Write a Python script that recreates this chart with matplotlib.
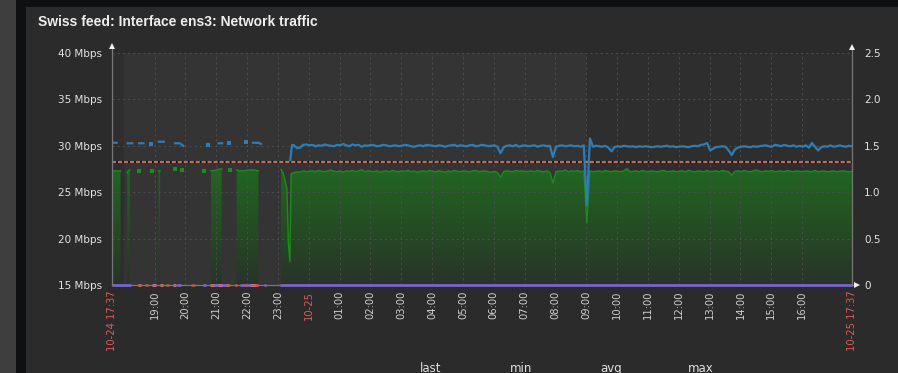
import numpy as np
import matplotlib
matplotlib.use("Agg")
import matplotlib.pyplot as plt
from matplotlib.path import Path
from matplotlib.patches import Rectangle
from matplotlib.lines import Line2D
from matplotlib.colors import LinearSegmentedColormap

plt.rcParams['lines.scale_dashes'] = False

# ---------------- data (x = hours since 10-24 17:37) ----------------
title = "Swiss feed: Interface ens3: Network traffic"

# early, intermittent part of the green (incoming) series, Mbps
green_early_t = [0.00, 0.28, 0.33, 0.49, 0.53, 0.58, 0.62, 1.51, 1.56, 1.60,
                 3.21, 3.30, 3.40, 3.50, 3.56, 3.60, 4.04, 4.15, 4.30, 4.45, 4.60, 4.75, 4.80,
                 5.48, 5.55, 5.62, 5.67, 5.70, 5.72, 5.77, 5.81]
green_early_v = [27.3, 27.3, np.nan, 27.1, 27.3, 27.4, np.nan, 27.3, 27.3, np.nan,
                 27.3, 27.35, 27.4, 27.5, 27.5, np.nan, 27.4, 27.3, 27.3, 27.4, 27.4, 27.3, np.nan,
                 27.45, 27.1, 26.2, 25.4, 22.5, 19.5, 17.5, 27.0]
green_dot_t = [0.88, 1.30, 2.04, 2.27, 2.98, 3.83]
green_dot_v = [27.3, 27.3, 27.45, 27.35, 27.3, 27.35]

# continuous part: starts 5.9 h, one value each 0.1 h
main_start, main_step = 5.9, 0.1
green_main = [
    27.1, 27.2, 27.15, 27.3, 27.2, 27.25,
    27.3, 27.2, 27.35, 27.25, 27.2, 27.3, 27.4, 27.25, 27.2, 27.3,
    27.15, 27.3, 27.25, 27.35, 27.2, 27.3, 27.45, 27.2, 27.3, 27.25,
    27.2, 27.3, 27.15, 27.25, 27.3, 27.2, 27.35, 27.25, 27.2, 27.3,
    27.25, 27.35, 27.2, 27.3, 27.15, 27.25, 27.3, 27.2, 27.35, 27.25,
    27.2, 27.3, 27.25, 27.15, 27.3, 27.2, 27.35, 27.25, 27.2, 27.3,
    27.25, 27.2, 27.3, 27.35, 27.2, 27.25, 27.3, 27.2, 27.15, 27.25,
    27.1, 26.6, 27.2, 27.3, 27.25, 27.2, 27.35, 27.25, 27.3, 27.2,
    27.25, 27.3, 27.2, 27.35, 27.25, 27.2, 27.3, 27.15, 26.0, 27.2,
    27.3, 27.25, 27.4, 27.2, 27.3, 27.25, 27.35, 27.2, 27.3, 21.7,
    27.3, 27.2, 27.25, 27.3, 27.2, 27.35, 27.25, 27.2, 27.3, 27.25,
    27.2, 27.3, 27.55, 27.2, 27.25, 27.3, 27.2, 27.35, 27.25, 27.2,
    27.3, 27.25, 27.2, 27.3, 27.35, 27.2, 27.25, 27.3, 27.2, 27.25,
    27.3, 27.2, 27.35, 27.25, 27.2, 27.3, 27.25, 27.2, 27.35, 27.2,
    27.25, 27.3, 27.2, 27.35, 27.25, 27.2, 26.85, 27.25, 27.3, 27.2,
    27.35, 27.25, 27.2, 27.3, 27.4, 27.25, 27.2, 27.3, 27.25, 27.35,
    27.2, 27.25, 27.3, 27.2, 27.35, 27.25, 27.2, 27.3, 27.25, 27.2,
    27.3, 27.25, 27.2, 27.35, 27.2, 27.25, 27.3, 27.2, 27.25, 27.3,
    27.2, 27.25, 27.3, 27.25, 27.2, 27.25,
]

# blue (outgoing) series, Mbps
blue_early_t = [0.00, 0.15, 0.30, 0.51, 0.66, 0.75, 0.88, 1.02, 1.10, 1.52, 1.68, 1.80,
                2.05, 2.20, 2.31, 2.40, 3.46, 3.57, 3.65, 4.57, 4.75, 4.83, 4.90,
                5.78, 5.84]
blue_early_v = [30.33, 30.33, np.nan, 30.27, 30.27, np.nan, 30.27, 30.27, np.nan, 30.44, 30.44, np.nan,
                30.27, 30.27, 30.0, np.nan, 30.27, 30.27, np.nan, 30.33, 30.33, 30.2, np.nan,
                28.45, 30.1]
blue_dot_t = [1.25, 3.11, 3.80, 4.34]
blue_dot_v = [30.19, 30.09, 30.27, 30.4]
blue_main = [
    30.05, 29.75, 29.8, 30.1, 30.15, 30.05,
    30.1, 29.95, 30.05, 30.0, 30.15, 30.05, 30.0, 29.95, 30.1, 30.05,
    30.2, 30.05, 29.95, 30.15, 30.05, 30.1, 29.9, 30.05, 30.0, 30.1,
    30.05, 29.95, 30.0, 30.1, 30.05, 29.95, 30.0, 30.05, 29.95, 30.0,
    30.1, 30.05, 29.95, 29.9, 30.0, 30.05, 29.95, 30.1, 30.05, 30.0,
    29.95, 30.05, 30.0, 29.9, 30.0, 30.05, 30.1, 29.95, 30.05, 30.0,
    29.95, 30.05, 30.1, 29.95, 30.0, 30.1, 30.05, 29.95, 30.0, 30.05,
    29.9, 29.2, 29.85, 30.0, 30.05, 29.95, 30.1, 29.9, 30.0, 30.05,
    29.95, 30.0, 30.05, 29.9, 30.0, 30.05, 29.95, 30.0, 28.8, 29.9,
    30.0, 30.05, 29.95, 30.0, 30.05, 29.95, 30.0, 29.9, 30.05, 23.6,
    30.8, 29.9, 30.0, 29.95, 29.9, 30.0, 29.8, 29.4, 29.85, 29.95,
    29.9, 30.0, 29.95, 29.9, 29.95, 29.85, 29.95, 29.9, 29.95, 29.9,
    29.85, 29.9, 29.95, 29.9, 29.95, 30.0, 29.9, 29.95, 29.85, 29.9,
    29.95, 29.9, 29.85, 29.95, 30.0, 29.95, 30.1, 30.15, 30.3, 29.5,
    29.7, 29.85, 29.9, 29.95, 29.9, 29.5, 29.0, 29.6, 29.8, 29.9,
    29.95, 29.9, 29.85, 29.95, 29.9, 29.95, 30.0, 30.05, 29.95, 29.9,
    30.1, 30.05, 29.95, 30.1, 30.0, 29.95, 30.05, 29.9, 30.0, 29.9,
    30.05, 29.8, 30.3, 29.9, 29.5, 29.85, 29.95, 29.9, 30.05, 29.9,
    29.95, 30.05, 29.95, 29.9, 30.0, 29.95,
]

threshold = 28.3  # Mbps, dashed trigger line

# small series on the right axis (all at 0): (start h, end h)
purple_segs = [(0.0, 0.61), (2.10, 2.23), (2.94, 3.05), (3.28, 3.70), (4.15, 4.74), (4.93, 4.99), (5.45, 24.0)]
salmon_segs = [(0.84, 0.94), (1.56, 1.65), (3.18, 3.31), (3.70, 3.79), (4.48, 4.67)]
brown_segs = [(1.07, 1.17), (1.75, 1.85), (2.56, 2.68), (3.76, 3.83)]
pink_segs = [(1.30, 1.43), (1.98, 2.09), (3.44, 3.57)]
red_segs = [(0.83, 0.89), (3.99, 4.07), (4.31, 4.39), (4.64, 4.74)]
right_value = 0.0

left_ticks = [15, 20, 25, 30, 35, 40]
right_ticks = [0, 0.5, 1.0, 1.5, 2.0, 2.5]
right_labels = ['0', '0.5', '1.0', '1.5', '2.0', '2.5']
hour_labels = ['19:00', '20:00', '21:00', '22:00', '23:00', '10-25', '01:00', '02:00',
               '03:00', '04:00', '05:00', '06:00', '07:00', '08:00', '09:00', '10:00',
               '11:00', '12:00', '13:00', '14:00', '15:00', '16:00']
hour_of_label = [19, 20, 21, 22, 23, 0, 1, 2, 3, 4, 5, 6, 7, 8, 9, 10, 11, 12, 13, 14, 15, 16]
start_minutes = 17 * 60 + 37
legend_heads = ['last', 'min', 'avg', 'max']

# ---------------- figure ----------------
W, H = 898, 373
fig = plt.figure(figsize=(W / 100, H / 100), dpi=100, facecolor='#2b2b2b')


def fx(px):
    return px / W


def fy(py):
    return 1 - py / H


def frect(x0, y0, x1, y1, c):
    fig.add_artist(Rectangle((fx(x0), fy(y1)), fx(x1) - fx(x0), fy(y0) - fy(y1),
                             transform=fig.transFigure, facecolor=c, edgecolor='none', zorder=0))


frect(0, 0, 16, H, '#3e3e3e')
frect(16, 0, 26, H, '#0f1012')
frect(16, 0, W, 7, '#0f1012')

fig.text(fx(38), fy(22), title, family='Liberation Sans', weight='bold', fontsize=10.0,
         color='#eeeeee', ha='left', va='center')

ax = fig.add_axes([fx(112), fy(285), fx(852) - fx(112), fy(53) - fy(285)])
ax.set_facecolor('#2e2e2e')
for s in ax.spines.values():
    s.set_visible(False)

# non-working time band (18:00 -> 09:00)
band0 = ((18 * 60 - start_minutes) % 1440) / 60
band1 = ((9 * 60 - start_minutes) % 1440) / 60
ax.axvspan(band0, band1, color='#343434', zorder=0, lw=0)

main_t = [main_start + main_step * i for i in range(len(green_main))]
green_t = green_early_t + main_t
green_v = green_early_v + green_main
blue_t = blue_early_t + main_t
blue_v = blue_early_v + blue_main

# gradient-filled green area
coll = ax.fill_between(green_t, 15, green_v, facecolor='none', edgecolor='none')
cp = Path.make_compound_path(*coll.get_paths())
cmap = LinearSegmentedColormap.from_list('g', ['#293329', '#216621'])
grad = np.linspace(0, 1, 256).reshape(-1, 1)
im = ax.imshow(grad, extent=[0, 24, 15, 27.6], origin='lower', cmap=cmap,
               aspect='auto', zorder=1, interpolation='bilinear')
im.set_clip_path(cp, ax.transData)
ax.plot(green_t, green_v, color='#1f8a1f', lw=1.0, zorder=3)
ax.plot(green_dot_t, green_dot_v, ls='none', marker='s', ms=2.2, color='#1f8a1f', mew=0, zorder=3)

# grid
tick_pos = [((h * 60 - start_minutes) % 1440) / 60 for h in hour_of_label]
for xp in tick_pos:
    ax.axvline(xp, color='#4c4c4c', lw=0.75, dashes=(1.5, 2.2), zorder=2)
for yv in left_ticks[1:]:
    ax.axhline(yv, color='#4c4c4c', lw=0.75, dashes=(1.5, 2.2), zorder=2)

# threshold
ax.axhline(threshold, color='#111111', lw=1.5, zorder=3.5)
ax.axhline(threshold, color='#c46c5a', lw=1.5, dashes=(3.0, 1.3), zorder=3.6)

# blue series
ax.plot(blue_t, blue_v, color='#2f7db8', lw=1.6, zorder=4)
ax.plot(blue_dot_t, blue_dot_v, ls='none', marker='s', ms=2.2, color='#2f7db8', mew=0, zorder=4)

ax.set_xlim(0, 24)
ax.set_ylim(15, 40)

ax.set_yticks(left_ticks)
ax.set_yticklabels([f'{v} Mbps' for v in left_ticks])
ax.tick_params(axis='y', length=0, pad=7.0, labelsize=7.5, labelcolor='#e2e2e2')

xt = [0.0] + tick_pos + [24.0]
xl = ['10-24 17:37'] + hour_labels + ['10-25 17:37']
ax.set_xticks(xt)
ax.set_xticklabels(xl, rotation=90, va='top', ha='center')
ax.tick_params(axis='x', length=0, pad=4.0, labelsize=7.2, labelcolor='#cfcfcf')
for lab in ax.get_xticklabels():
    if lab.get_text() in ('10-24 17:37', '10-25', '10-25 17:37'):
        lab.set_color('#e25858')

ax2 = ax.twinx()
for s in ax2.spines.values():
    s.set_visible(False)
ax2.patch.set_visible(False)
ax2.set_ylim(0, 2.5)
ax2.set_yticks(right_ticks)
ax2.set_yticklabels(right_labels)
ax2.tick_params(axis='y', length=0, pad=8.6, labelsize=7.5, labelcolor='#e2e2e2')

for segs, col in [(purple_segs, '#7560e0'), (salmon_segs, '#e8766a'), (brown_segs, '#a0522d'),
                  (pink_segs, '#ee6aa7'), (red_segs, '#ff3535')]:
    for a, b in segs:
        ax2.plot([a, b], [right_value, right_value], color=col, lw=2.0, solid_capstyle='butt',
                 zorder=6, clip_on=False)

# axis lines and arrows (figure pixels)
axcol = '#777777'
fig.add_artist(Line2D([fx(112), fx(112)], [fy(45), fy(285)], color=axcol, lw=0.9, transform=fig.transFigure))
fig.add_artist(Line2D([fx(852), fx(852)], [fy(46), fy(285)], color=axcol, lw=0.9, transform=fig.transFigure))
fig.add_artist(Line2D([fx(112), fx(855)], [fy(285), fy(285)], color=axcol, lw=0.9, transform=fig.transFigure))
fig.add_artist(Line2D([fx(112)], [fy(46)], marker='^', ms=4, color='#eeeeee', mew=0, transform=fig.transFigure))
fig.add_artist(Line2D([fx(852)], [fy(47)], marker='^', ms=4, color='#eeeeee', mew=0, transform=fig.transFigure))
fig.add_artist(Line2D([fx(857)], [fy(285)], marker='>', ms=4, color='#eeeeee', mew=0, transform=fig.transFigure))

for txt, px in zip(legend_heads, [420, 510, 600, 688]):
    fig.text(fx(px), fy(362), txt, fontsize=8.5, color='#e0e0e0', ha='left', va='top')

fig.savefig('out.png', dpi=100, facecolor=fig.get_facecolor())
